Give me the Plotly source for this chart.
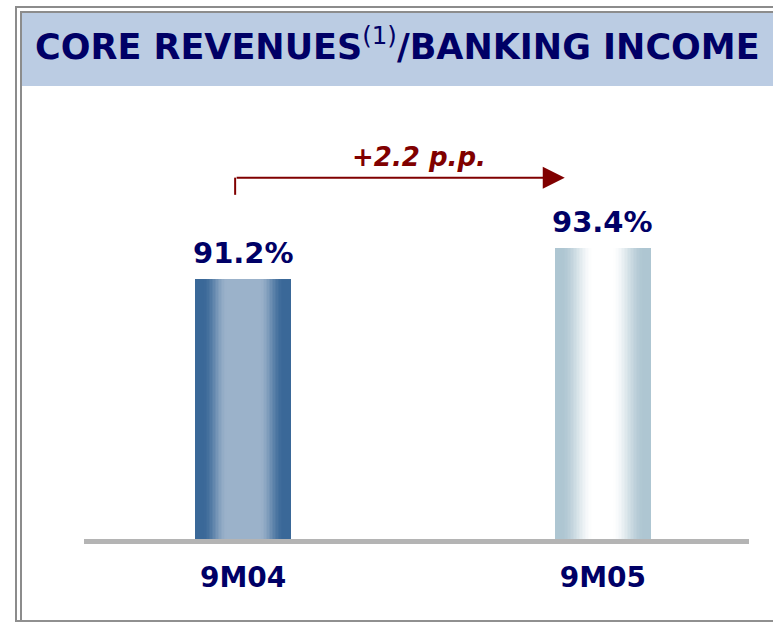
import plotly.graph_objects as go

# ---- data ----
categories = ["9M04", "9M05"]
values = [91.2, 93.4]
title_text = "CORE REVENUES<sup><span style='font-weight:normal'>(1)</span></sup>/BANKING INCOME"

W, H = 773, 622
NAVY = "#000066"
DARKRED = "#800000"

# gradient colours per bar (edge -> centre) and ramp start/end (fraction of half width)
edge_cols = [(58, 104, 152), (174, 198, 210)]
centre_cols = [(155, 178, 202), (255, 255, 255)]
ramps = [(0.15, 0.65), (0.12, 0.8)]


def mix(a, b, t):
    return "rgb(%d,%d,%d)" % tuple(round(a[k] + (b[k] - a[k]) * t) for k in range(3))


def ramp(frac, r):
    t = (frac - r[0]) / (r[1] - r[0])
    t = max(0.0, min(1.0, t))
    return t * t * (3 - 2 * t)


fig = go.Figure()

BAR_W = 0.267
N = 32
for i in range(N):
    frac = i / N
    fig.add_trace(go.Bar(
        x=[0, 1], y=values,
        width=BAR_W * (1 - frac),
        marker=dict(color=[mix(edge_cols[j], centre_cols[j], ramp(frac, ramps[j])) for j in range(2)],
                    line=dict(width=0)),
        showlegend=False, hoverinfo="skip",
    ))


def px_x(p):
    return p / W


def px_y(p):
    return 1 - p / H


x_dom = [px_x(84), px_x(749)]
y_dom = [px_y(539), px_y(100)]

fig.update_layout(
    width=W, height=H,
    margin=dict(l=0, r=0, t=0, b=0),
    paper_bgcolor="white", plot_bgcolor="white",
    barmode="overlay", bargap=0,
    xaxis=dict(domain=x_dom, range=[-0.442, 1.406],
               tickmode="array", tickvals=[0, 1], ticktext=categories,
               showgrid=False, zeroline=False,
               showline=True, linecolor="#B4B4B4", linewidth=5,
               ticks="", ticklabelstandoff=9,
               tickfont=dict(family="DejaVu Sans", size=28, color=NAVY, weight="bold")),
    yaxis=dict(domain=y_dom, range=[72.75, 103.91], visible=False),
)

# value labels
for i, v in enumerate(values):
    fig.add_annotation(x=i, y=v, text=f"{v:.1f}%", showarrow=False,
                       yanchor="bottom", yshift=7,
                       font=dict(family="DejaVu Sans", size=29, color=NAVY, weight="bold"))

# change arrow
delta = values[1] - values[0]
arrow_y = values[1] + 5.0
x_start, x_end = -0.022, 0.894
fig.add_shape(type="line", xref="x", yref="y", x0=x_start, x1=x_start,
              y0=values[1] + 3.78, y1=arrow_y, line=dict(color=DARKRED, width=2))
fig.add_annotation(x=x_end, y=arrow_y, ax=x_start, ay=arrow_y, axref="x", ayref="y",
                   xref="x", yref="y", text="", showarrow=True,
                   arrowhead=2, arrowsize=2.2, arrowwidth=2, arrowcolor=DARKRED, standoff=0)
fig.add_annotation(x=0.49, y=arrow_y + 1.47, xref="x", yref="y",
                   text=f"+{delta:.1f} p.p.", showarrow=False,
                   font=dict(family="DejaVu Sans", size=26, color=DARKRED, weight="bold", style="italic"))

# frame + title bar (paper coords map to window pixels)
fig.add_shape(type="rect", xref="paper", yref="paper",
              x0=px_x(22), x1=1.05, y0=px_y(86), y1=px_y(13),
              fillcolor="#BBCCE3", line=dict(width=0), layer="below")
border = "#8C8C8C"
for xx, ytop in ((16, 6), (21, 11)):
    fig.add_shape(type="line", xref="paper", yref="paper", x0=px_x(xx), x1=px_x(xx),
                  y0=px_y(640), y1=px_y(ytop), line=dict(color=border, width=2))
for yy, x0 in ((7, 15), (12, 20)):
    fig.add_shape(type="line", xref="paper", yref="paper", x0=px_x(x0), x1=1.05,
                  y0=px_y(yy), y1=px_y(yy), line=dict(color=border, width=2))
fig.add_shape(type="line", xref="paper", yref="paper", x0=px_x(16), x1=1.05,
              y0=px_y(621), y1=px_y(621), line=dict(color="#909090", width=2))

fig.add_annotation(xref="paper", yref="paper", x=px_x(33), y=px_y(44),
                   xanchor="left", yanchor="middle", text=title_text, showarrow=False,
                   font=dict(family="DejaVu Sans", size=35, color=NAVY, weight="bold"))

fig.write_html("out.html", config={"displayModeBar": False},
               post_script="document.body.style.margin='0';document.body.style.overflow='hidden';")
